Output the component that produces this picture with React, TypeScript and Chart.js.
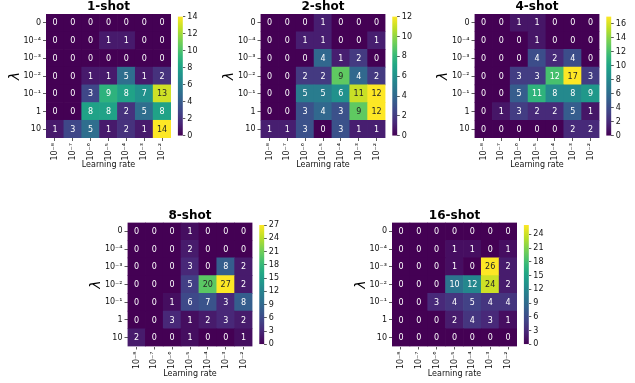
import React, { useEffect, useRef } from 'react';
import { Chart, registerables } from 'chart.js';

Chart.register(...registerables);
Chart.defaults.font.family = "'DejaVu Sans', sans-serif";

// ---------- data ----------
const lrLabels = ['10⁻⁸', '10⁻⁷', '10⁻⁶', '10⁻⁵', '10⁻⁴', '10⁻³', '10⁻²'];
const lambdaLabels = ['0', '10⁻⁴', '10⁻³', '10⁻²', '10⁻¹', '1', '10'];

const shot1 = [
  [0, 0, 0, 0, 0, 0, 0],
  [0, 0, 0, 1, 1, 0, 0],
  [0, 0, 0, 0, 0, 0, 0],
  [0, 0, 1, 1, 5, 1, 2],
  [0, 0, 3, 9, 8, 7, 13],
  [0, 0, 8, 8, 2, 5, 8],
  [1, 3, 5, 1, 2, 1, 14],
];
const shot2 = [
  [0, 0, 0, 1, 0, 0, 0],
  [0, 0, 1, 1, 0, 0, 1],
  [0, 0, 0, 4, 1, 2, 0],
  [0, 0, 2, 2, 9, 4, 2],
  [0, 0, 5, 5, 6, 11, 12],
  [0, 0, 3, 4, 3, 9, 12],
  [1, 1, 3, 0, 3, 1, 1],
];
const shot4 = [
  [0, 0, 1, 1, 0, 0, 0],
  [0, 0, 0, 1, 0, 0, 0],
  [0, 0, 0, 4, 2, 4, 0],
  [0, 0, 3, 3, 12, 17, 3],
  [0, 0, 5, 11, 8, 8, 9],
  [0, 1, 3, 2, 2, 5, 1],
  [0, 0, 0, 0, 0, 2, 2],
];
const shot8 = [
  [0, 0, 0, 1, 0, 0, 0],
  [0, 0, 0, 2, 0, 0, 0],
  [0, 0, 0, 3, 0, 8, 2],
  [0, 0, 0, 5, 20, 27, 2],
  [0, 0, 1, 6, 7, 3, 8],
  [0, 0, 3, 1, 2, 3, 2],
  [2, 0, 0, 1, 0, 0, 1],
];
const shot16 = [
  [0, 0, 0, 0, 0, 0, 0],
  [0, 0, 0, 1, 1, 0, 1],
  [0, 0, 0, 1, 0, 26, 2],
  [0, 0, 0, 10, 12, 24, 2],
  [0, 0, 3, 4, 5, 4, 4],
  [0, 0, 0, 2, 4, 3, 1],
  [0, 0, 0, 0, 0, 0, 0],
];

const cbTicks1 = [0, 2, 4, 6, 8, 10, 12, 14];
const cbTicks2 = [0, 2, 4, 6, 8, 10, 12];
const cbTicks4 = [0, 2, 4, 6, 8, 10, 12, 14, 16];
const cbTicks8 = [0, 3, 6, 9, 12, 15, 18, 21, 24, 27];
const cbTicks16 = [0, 3, 6, 9, 12, 15, 18, 21, 24];

const titles = ['1-shot', '2-shot', '4-shot', '8-shot', '16-shot'];

// ---------- viridis ----------
const VIRIDIS: [number, string][] = [
  [0.0, '#440154'], [0.1, '#482475'], [1 / 9, '#482878'], [0.2, '#414487'], [2 / 9, '#3e4989'],
  [0.3, '#355f8d'], [1 / 3, '#31688e'], [0.4, '#2a788e'], [4 / 9, '#26828e'], [0.5, '#21918c'],
  [5 / 9, '#1f9e89'], [0.6, '#22a884'], [2 / 3, '#35b779'], [0.7, '#44bf70'], [7 / 9, '#6ece58'],
  [0.8, '#7ad151'], [8 / 9, '#b5de2b'], [0.9, '#bddf26'], [1.0, '#fde725'],
];
const hexRgb = (h: string) => [1, 3, 5].map((i) => parseInt(h.slice(i, i + 2), 16));
function viridis(t: number): number[] {
  t = Math.max(0, Math.min(1, t));
  for (let i = 1; i < VIRIDIS.length; i++) {
    if (t <= VIRIDIS[i][0]) {
      const [t0, c0] = VIRIDIS[i - 1];
      const [t1, c1] = VIRIDIS[i];
      const f = (t - t0) / (t1 - t0);
      const a = hexRgb(c0), b = hexRgb(c1);
      return a.map((v, k) => Math.round(v + (b[k] - v) * f));
    }
  }
  return hexRgb(VIRIDIS[VIRIDIS.length - 1][1]);
}
const rgbStr = (c: number[]) => `rgb(${c[0]},${c[1]},${c[2]})`;
function luminance(c: number[]) {
  const f = (x: number) => {
    x /= 255;
    return x <= 0.03928 ? x / 12.92 : Math.pow((x + 0.055) / 1.055, 2.4);
  };
  return 0.2126 * f(c[0]) + 0.7152 * f(c[1]) + 0.0722 * f(c[2]);
}

type Rect = { L: number; T: number; R: number; B: number };
const panels: { title: string; values: number[][]; ticks: number[]; rect: Rect }[] = [
  { title: titles[0], values: shot1, ticks: cbTicks1, rect: { L: 46, T: 14, R: 171, B: 138 } },
  { title: titles[1], values: shot2, ticks: cbTicks2, rect: { L: 260.5, T: 14, R: 385.5, B: 138 } },
  { title: titles[2], values: shot4, ticks: cbTicks4, rect: { L: 474.5, T: 14, R: 599.5, B: 138 } },
  { title: titles[3], values: shot8, ticks: cbTicks8, rect: { L: 127.5, T: 222.5, R: 252.5, B: 346.5 } },
  { title: titles[4], values: shot16, ticks: cbTicks16, rect: { L: 392, T: 222.5, R: 517, B: 346.5 } },
];

const TXT = '#111';
const TICKC = '#333';

function Heatmap({ title, values, ticks, rect }: { title: string; values: number[][]; ticks: number[]; rect: Rect }) {
  const hmRef = useRef<HTMLCanvasElement>(null);
  const cbRef = useRef<HTMLCanvasElement>(null);

  const vmax = Math.max(...values.flat());
  const nRows = values.length;

  // heatmap canvas geometry
  const yAxisW = 46, titleH = 14, xAxisH = 37, rightPad = 4;
  const cLeft = Math.floor(rect.L - yAxisW);
  const cTop = Math.floor(rect.T - titleH);
  const padL = rect.L - yAxisW - cLeft;
  const padT = rect.T - titleH - cTop;
  const cW = Math.ceil(rect.R + rightPad) - cLeft;
  const cH = Math.ceil(rect.B + xAxisH) - cTop;
  const padR = cW - (rect.R - cLeft);
  const padB = cH - xAxisH - (rect.B - cTop);

  // colorbar geometry
  const cbW = 5, cbAxisW = 22;
  const x0 = rect.R + 6.8, y0 = rect.T + 2.6, y1 = rect.B - 2.2;
  const bLeft = Math.floor(x0);
  const bTop = Math.floor(y0 - 8);
  const bPadL = x0 - bLeft;
  const bPadT = y0 - bTop;
  const bW = Math.ceil(bPadL + cbW + cbAxisW);
  const bH = Math.ceil(y1 + 8) - bTop;
  const bPadR = bW - (bPadL + cbW + cbAxisW);
  const bPadB = bH - (y1 - bTop);

  useEffect(() => {
    const datasets = values
      .map((row, r) => ({
        label: lambdaLabels[r],
        data: row.map(() => 1),
        backgroundColor: row.map((v) => rgbStr(viridis(v / vmax))),
        borderWidth: 0,
        barPercentage: 1,
        categoryPercentage: 1,
        rowValues: row,
      }))
      .reverse();

    const annotate = {
      id: 'annotate',
      afterDatasetsDraw(chart: any) {
        const ctx = chart.ctx;
        ctx.save();
        ctx.font = "8px 'DejaVu Sans', sans-serif";
        ctx.textAlign = 'center';
        ctx.textBaseline = 'middle';
        chart.data.datasets.forEach((ds: any, i: number) => {
          const meta = chart.getDatasetMeta(i);
          meta.data.forEach((el: any, j: number) => {
            const v = ds.rowValues[j];
            const c = viridis(v / vmax);
            ctx.fillStyle = luminance(c) > 0.408 ? '#262626' : '#ffffff';
            ctx.fillText(String(v), el.x, (el.y + el.base) / 2 + 0.5);
          });
        });
        ctx.restore();
      },
    };

    const hm = new Chart(hmRef.current!, {
      type: 'bar',
      data: { labels: lrLabels, datasets: datasets as any },
      plugins: [annotate],
      options: {
        responsive: false,
        animation: false,
        layout: { padding: { left: padL, top: padT, right: padR, bottom: padB } },
        plugins: {
          legend: { display: false },
          tooltip: { enabled: false },
          title: {
            display: true,
            text: title,
            fullSize: false,
            color: '#000',
            padding: 0,
            font: { size: 12, weight: 'bold', lineHeight: 14 / 12 },
          },
        },
        scales: {
          x: {
            type: 'category',
            stacked: true,
            offset: true,
            grid: { offset: false, drawOnChartArea: false, drawTicks: true, tickLength: 3, color: TICKC, lineWidth: 0.8 },
            border: { display: false },
            ticks: { minRotation: 90, maxRotation: 90, autoSkip: false, font: { size: 8 }, color: TXT, padding: 2 },
            title: { display: true, text: 'Learning rate', color: TXT, font: { size: 8 }, padding: { top: 0, bottom: 5.2 } },
            afterFit: (s: any) => {
              s.height = xAxisH;
            },
          },
          y: {
            type: 'linear',
            stacked: true,
            min: 0,
            max: nRows,
            grid: { drawOnChartArea: false, drawTicks: true, tickLength: 3, color: TICKC, lineWidth: 0.8 },
            border: { display: false },
            afterBuildTicks: (s: any) => {
              s.ticks = lambdaLabels.map((_, i) => ({ value: nRows - 0.5 - i }));
            },
            ticks: {
              autoSkip: false,
              font: { size: 8 },
              color: TXT,
              padding: 2,
              callback: (v: any) => lambdaLabels[Math.round(nRows - 0.5 - Number(v))],
            },
            title: { display: true, text: 'λ', color: '#000', font: { size: 14, style: 'italic' }, padding: { top: 6.6, bottom: 0 } },
            afterFit: (s: any) => {
              s.width = yAxisW;
            },
          },
        },
      } as any,
    });

    const cb = new Chart(cbRef.current!, {
      type: 'bar',
      data: {
        labels: ['cb'],
        datasets: [
          {
            data: [vmax],
            borderWidth: 0,
            barPercentage: 1,
            categoryPercentage: 1,
            backgroundColor: (c: any) => {
              const a = c.chart.chartArea;
              if (!a) return VIRIDIS[0][1];
              const g = c.chart.ctx.createLinearGradient(0, a.bottom, 0, a.top);
              VIRIDIS.forEach(([t, h]) => g.addColorStop(t, h));
              return g;
            },
          },
        ],
      },
      options: {
        responsive: false,
        animation: false,
        layout: { padding: { left: bPadL, top: bPadT, right: bPadR, bottom: bPadB } },
        plugins: { legend: { display: false }, tooltip: { enabled: false } },
        scales: {
          x: { display: false, offset: true },
          y: {
            type: 'linear',
            position: 'right',
            min: 0,
            max: vmax,
            grid: { drawOnChartArea: false, drawTicks: true, tickLength: 2.5, color: TICKC, lineWidth: 0.8 },
            border: { display: false },
            afterBuildTicks: (s: any) => {
              s.ticks = ticks.map((v) => ({ value: v }));
            },
            ticks: { autoSkip: false, font: { size: 8 }, color: TXT, padding: 2, callback: (v: any) => String(v) },
            afterFit: (s: any) => {
              s.width = cbAxisW;
            },
          },
        },
      } as any,
    });

    return () => {
      hm.destroy();
      cb.destroy();
    };
  }, []);

  return (
    <>
      <canvas
        ref={hmRef}
        width={cW}
        height={cH}
        style={{ position: 'absolute', left: cLeft, top: cTop, width: cW, height: cH, display: 'block' }}
      />
      <canvas
        ref={cbRef}
        width={bW}
        height={bH}
        style={{ position: 'absolute', left: bLeft, top: bTop, width: bW, height: bH, display: 'block' }}
      />
    </>
  );
}

export default function App() {
  return (
    <div style={{ position: 'absolute', left: 0, top: 0, width: 635, height: 383, background: '#fff', overflow: 'hidden' }}>
      {panels.map((p) => (
        <Heatmap key={p.title} title={p.title} values={p.values} ticks={p.ticks} rect={p.rect} />
      ))}
    </div>
  );
}
